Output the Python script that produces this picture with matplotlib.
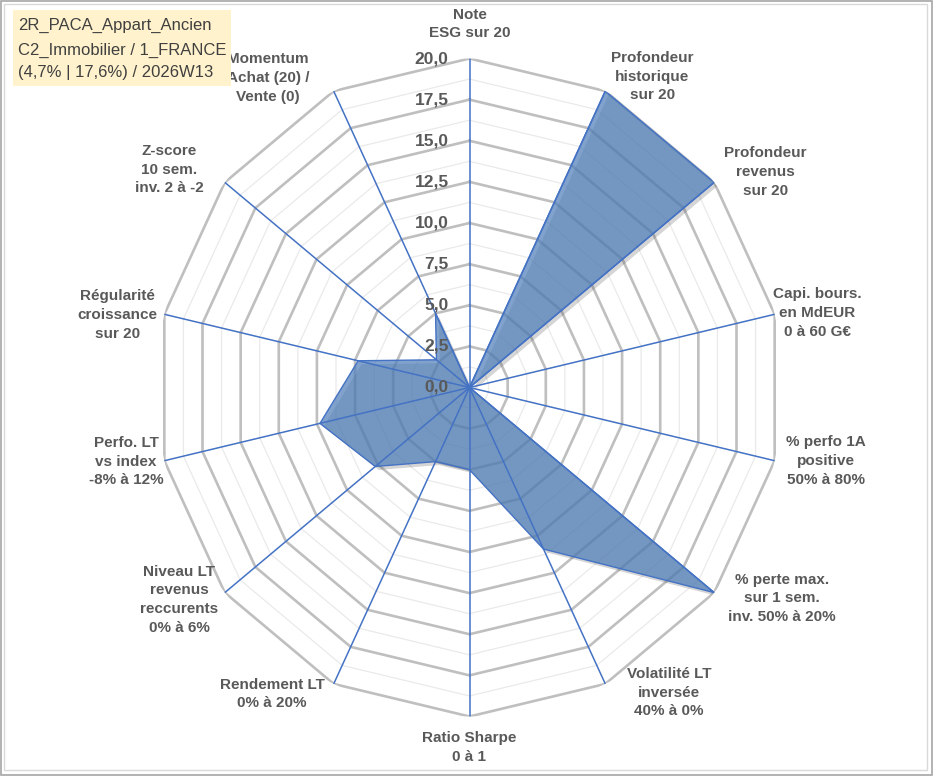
import numpy as np
import matplotlib
matplotlib.use("Agg")
import matplotlib.pyplot as plt
from matplotlib import patheffects as pe
from matplotlib.transforms import offset_copy
from matplotlib.patches import Rectangle

# ---------------- data ----------------
categories = [
    "Note\nESG sur 20",
    "Profondeur\nhistorique\nsur 20",
    "Profondeur\nrevenus\nsur 20",
    "Capi. bours.\nen MdEUR\n0 à 60 G€",
    "% perfo 1A\npositive\n50% à 80%",
    "% perte max.\nsur 1 sem.\ninv. 50% à 20%",
    "Volatilité LT\ninversée\n40% à 0%",
    "Ratio Sharpe\n0 à 1",
    "Rendement LT\n0% à 20%",
    "Niveau LT\nrevenus\nreccurents\n0% à 6%",
    "Perfo. LT\nvs index\n-8% à 12%",
    "Régularité\ncroissance\nsur 20",
    "Z-score\n10 sem.\ninv. 2 à -2",
    "Momentum\nAchat (20) /\nVente (0)",
]
values = [0, 20, 20, 0, 0, 20, 10.9, 5, 5, 7.7, 9.8, 7.3, 2.7, 5]
r_ticks = [0, 2.5, 5, 7.5, 10, 12.5, 15, 17.5, 20]
r_tick_labels = ["0,0", "2,5", "5,0", "7,5", "10,0", "12,5", "15,0", "17,5", "20,0"]
minor_rings = [1.25, 3.75, 6.25, 8.75, 11.25, 13.75, 16.25, 18.75]
title_lines = ["2R_PACA_Appart_Ancien", "C2_Immobilier / 1_FRANCE", "(4,7% | 17,6%) / 2026W13"]

# label placement (angle in degrees, radius in data units)
label_angles = [0, 31.7, 55.3, 78.5, 101.1, 122.7, 145.5, 180, 214.1, 235.2, 258.4, 281.1, 304.6, 325.6]
label_radii = [22.1, 22.2, 23.0, 22.7, 23.2, 23.7, 22.5, 21.9, 22.5, 22.6, 22.4, 22.9, 23.3, 22.8]

# ---------------- figure ----------------
W, H = 933, 776
fig = plt.figure(figsize=(W / 100, H / 100), dpi=100)
fig.patch.set_facecolor("white")

cx, cy = 469.5, 388.5   # centre (pixels from left / bottom)
rx, ry = 313, 329
ax = fig.add_axes([(cx - rx) / W, (cy - ry) / H, 2 * rx / W, 2 * ry / H], projection="polar")
ax.set_aspect("auto")
ax.set_theta_zero_location("N")
ax.set_theta_direction(-1)
ax.set_ylim(0, 20)
ax.axis("off")

n = len(categories)
theta = np.arange(n) * 2 * np.pi / n
theta_c = np.append(theta, theta[0])

# grid polygons
for r in minor_rings:
    ax.plot(theta_c, [r] * (n + 1), color="#EAEAEA", lw=0.9, zorder=1)
for r in r_ticks[1:]:
    ax.plot(theta_c, [r] * (n + 1), color="#BFBFBF", lw=1.9, zorder=2)

# data polygon
vals_c = values + [values[0]]
ax.fill(theta_c, vals_c, facecolor="#4F7FBA", alpha=0.72, edgecolor="none", zorder=3,
        path_effects=[pe.SimplePatchShadow(offset=(2.5, -2.5), alpha=0.22, shadow_rgbFace="#404040"), pe.Normal()])
ax.plot(theta_c, vals_c, color="#4472C4", lw=1.0, zorder=4)

# spokes
for t in theta:
    ax.plot([t, t], [0, 20], color="#4472C4", lw=1.1, zorder=5)

# radial tick labels
tick_tr = offset_copy(ax.transData, fig=fig, x=-21, y=0, units="dots")
for r, lab in zip(r_ticks, r_tick_labels):
    ax.text(0, r, lab, transform=tick_tr, ha="right", va="center", fontsize=12.5,
            fontweight="bold", color="#595959", family="Liberation Sans", zorder=6)

# category labels
for lab, a, rr in zip(categories, label_angles, label_radii):
    ax.text(np.deg2rad(a), rr, lab, ha="center", va="center", fontsize=11, fontweight="bold",
            color="#595959", family="Liberation Sans", linespacing=1.42, zorder=6)

# title box
fig.patches.append(Rectangle((13 / W, 1 - 86 / H), 218 / W, 76 / H, transform=fig.transFigure,
                             facecolor="#FFF2CC", edgecolor="none", zorder=0))
for i, y in zip(range(3), [25, 50, 73]):
    fig.text(18 / W, 1 - y / H, title_lines[i], ha="left", va="center", fontsize=12,
             color="#404040", family="Liberation Sans")

# borders
fig.patches.append(Rectangle((1 / W, 1 / H), (W - 2) / W, (H - 2) / H, transform=fig.transFigure,
                             facecolor="none", edgecolor="#A6A6A6", lw=1.2))
fig.patches.append(Rectangle((4 / W, 6 / H), (W - 10) / W, (H - 10) / H, transform=fig.transFigure,
                             facecolor="none", edgecolor="#D9D9D9", lw=1.0))

fig.savefig("out.png", dpi=100)
